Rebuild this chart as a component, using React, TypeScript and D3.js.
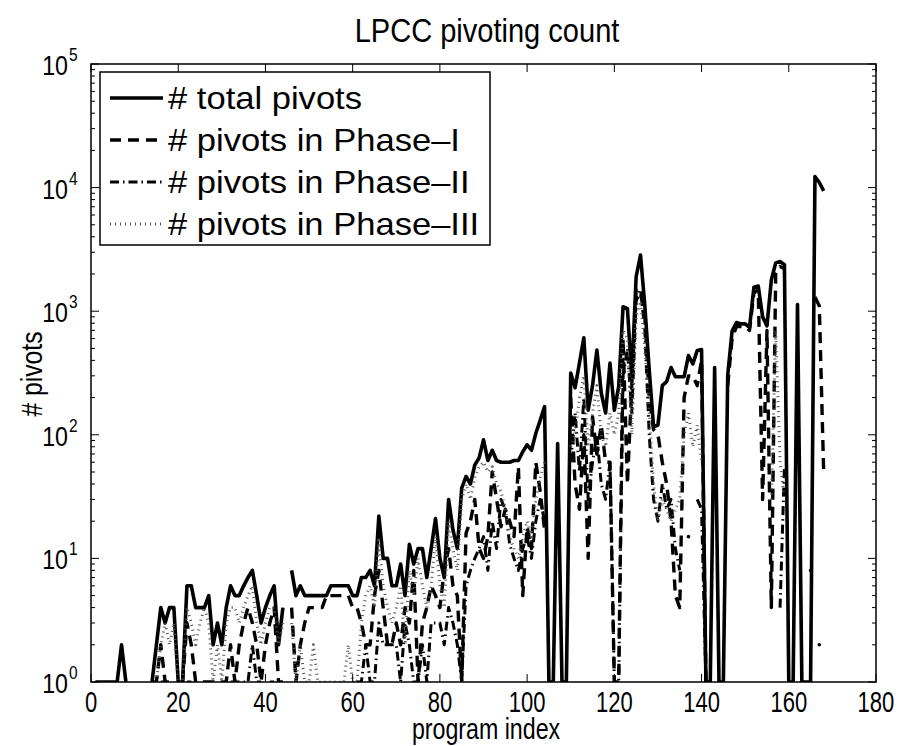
import React from 'react'
import * as d3 from 'd3'

// pivot counts per program (program index 1..168), 0 = nothing drawn
const totalPivots = [
	1, 1, 1, 1, 1, 1, 2, 1, 0, 0,
	0, 0, 0, 1, 2, 4, 3, 4, 4, 1,
	1, 6, 6, 4, 4, 4, 5, 2, 3, 2,
	4, 6, 5, 5, 6, 7, 8, 5, 3, 4,
	5, 6, 2, 4, 0, 8, 5, 6, 5, 5,
	5, 5, 5, 5, 6, 6, 6, 6, 6, 5,
	5, 7, 7, 8, 6, 22, 10, 10, 6, 6,
	9, 5, 13, 9, 12, 12, 7, 12, 21, 10,
	7, 30, 17, 12, 37, 46, 40, 57, 65, 91,
	62, 75, 62, 60, 60, 60, 62, 62, 73, 83,
	75, 103, 131, 169, 1, 1, 85, 1, 1, 316,
	240, 380, 610, 158, 250, 485, 218, 150, 380, 158,
	245, 1087, 1050, 295, 1900, 2850, 1100, 335, 116, 120,
	250, 270, 350, 295, 295, 295, 437, 375, 480, 490,
	1, 1, 350, 1, 1, 305, 690, 810, 790, 790,
	740, 1560, 1600, 900, 760, 1790, 2460, 2520, 2380, 1,
	1, 1130, 1, 1, 1, 12300, 11000, 9400,
]

const phase1Pivots = [
	0, 0, 0, 0, 0, 0, 0, 0, 0, 0,
	0, 0, 0, 1, 1, 2, 1, 1, 0, 0,
	1, 3, 2, 1, 1, 1, 1, 1, 1, 1,
	1, 2, 1, 2, 3, 4, 3, 2, 1, 2,
	3, 4, 1, 1, 0, 4, 1, 2, 3, 4,
	4, 4, 4, 5, 5, 5, 5, 5, 5, 4,
	4, 3, 2, 2, 5, 8, 4, 2, 2, 3,
	2, 4, 3, 8, 1, 3, 4, 6, 5, 4,
	8, 12, 6, 5, 1, 16, 20, 30, 12, 10,
	15, 50, 30, 18, 25, 20, 15, 55, 5, 18,
	12, 60, 35, 17, 0, 0, 0, 0, 0, 200,
	40, 25, 100, 10, 140, 70, 120, 60, 60, 1,
	1, 600, 40, 250, 1500, 1400, 900, 200, 110, 100,
	60, 40, 20, 5, 4, 200, 300, 300, 250, 400,
	1, 0, 0, 0, 0, 250, 600, 750, 750, 750,
	700, 1400, 1500, 30, 700, 4, 2000, 2300, 2200, 0,
	0, 0, 0, 0, 0, 1300, 1100, 50,
]

const phase2Pivots = [
	0, 0, 0, 0, 0, 0, 0, 0, 0, 0,
	0, 0, 0, 0, 0, 1, 1, 0, 0, 0,
	0, 1, 1, 0, 0, 0, 0, 0, 0, 0,
	0, 1, 1, 1, 1, 1, 2, 1, 1, 0,
	1, 1, 0, 0, 0, 0, 0, 0, 0, 0,
	0, 0, 0, 0, 0, 0, 0, 0, 0, 0,
	1, 1, 2, 1, 1, 3, 2, 2, 2, 2,
	1, 3, 2, 1, 1, 2, 1, 3, 3, 3,
	2, 4, 3, 2, 1, 6, 8, 10, 12, 15,
	8, 20, 12, 30, 25, 13, 10, 8, 12, 15,
	10, 20, 30, 20, 0, 0, 0, 0, 0, 60,
	150, 50, 200, 30, 60, 100, 40, 30, 60, 1,
	1, 300, 500, 150, 1200, 1500, 700, 100, 30, 20,
	40, 25, 30, 12, 8, 0, 15, 0, 30, 25,
	1, 0, 0, 0, 0, 0, 0, 0, 0, 0,
	0, 0, 0, 0, 0, 0, 0, 4, 55, 0,
	0, 0, 0, 0, 8, 0, 2, 0,
]

const phase3Pivots = [
	0, 0, 0, 0, 0, 0, 0, 0, 0, 0,
	0, 0, 0, 0, 1, 2, 3, 2, 3, 1,
	1, 4, 3, 2, 3, 4, 3, 1, 2, 1,
	3, 4, 4, 3, 4, 5, 6, 3, 2, 3,
	4, 4, 2, 3, 0, 3, 1, 2, 1, 1,
	2, 1, 1, 1, 1, 1, 1, 1, 2, 1,
	1, 3, 5, 6, 4, 14, 6, 4, 3, 4,
	6, 2, 8, 5, 10, 6, 4, 6, 15, 6,
	4, 20, 12, 8, 30, 40, 30, 45, 55, 60,
	50, 55, 40, 35, 25, 15, 12, 10, 15, 20,
	15, 30, 45, 60, 0, 0, 0, 0, 0, 80,
	100, 200, 300, 80, 150, 250, 100, 80, 150, 100,
	150, 700, 600, 100, 900, 1200, 500, 150, 40, 20,
	30, 25, 20, 25, 30, 100, 150, 80, 120, 60,
	0, 0, 0, 0, 0, 0, 0, 0, 0, 0,
	0, 0, 0, 0, 0, 30, 700, 60, 30, 0,
	0, 0, 0, 0, 0, 0, 0, 0,
]

const xTicks = [0, 20, 40, 60, 80, 100, 120, 140, 160, 180]
const yDecades = [0, 1, 2, 3, 4, 5]
const legendLabels = ['# total pivots', '# pivots in Phase\u2013I', '# pivots in Phase\u2013II', '# pivots in Phase\u2013III']

const FONT = "'Liberation Sans', Arial, Helvetica, sans-serif"

// plot box
const left = 91
const right = 876
const top = 64
const bottom = 682

const series = [
	{ data: totalPivots, width: 3.6, dash: 'none', color: '#000' },
	{ data: phase1Pivots, width: 3.4, dash: '11,7', color: '#000' },
	{ data: phase2Pivots, width: 3, dash: '9,4,1.5,4', color: '#000' },
	{ data: phase3Pivots, width: 3, dash: '1,4', color: '#555' },
]

// text with horizontal stretch (tick fonts in the picture are narrow)
function SText({ x, y, size, sx = 1, anchor = 'middle', rotate = 0, children }: any) {
	return (
		<text
			transform={`translate(${x},${y}) rotate(${rotate}) scale(${sx},1)`}
			fontSize={size}
			fontFamily={FONT}
			textAnchor={anchor}
			fill="#000"
		>
			{children}
		</text>
	)
}

export default function App() {
	const x = d3.scaleLinear().domain([0, 180]).range([left, right])
	const y = d3.scaleLog().domain([1, 1e5]).range([bottom, top])

	const line = d3
		.line<number>()
		.defined(d => d > 0)
		.x((d, i) => x(i + 1))
		.y(d => y(d))

	// single points that have no drawn neighbour show up as dots
	const lonely = (data: number[]) =>
		data
			.map((v, i) => ({ v, i }))
			.filter(({ v, i }) => v > 0 && !(data[i - 1] > 0) && !(data[i + 1] > 0))

	const minorTicks: number[] = []
	for (let k = 0; k < 5; k++) for (let m = 2; m <= 9; m++) minorTicks.push(m * 10 ** k)

	return (
		<svg width={899} height={746} style={{ position: 'absolute', left: 0, top: 0, background: '#fff' }}>
			<rect width={899} height={746} fill="#fff" />
			<defs>
				<clipPath id="plot">
					<rect x={left} y={top} width={right - left} height={bottom - top} />
				</clipPath>
			</defs>

			<g clipPath="url(#plot)">
				{series.map((s, k) => (
					<g key={k}>
						<path
							d={line(s.data) || ''}
							fill="none"
							stroke={s.color}
							strokeWidth={s.width}
							strokeDasharray={s.dash}
							strokeLinejoin="round"
						/>
						{lonely(s.data).map(p => (
							<circle key={p.i} cx={x(p.i + 1)} cy={y(p.v)} r={1.8} fill={s.color} />
						))}
					</g>
				))}
			</g>

			{/* axes box and ticks */}
			<rect x={left} y={top} width={right - left} height={bottom - top} fill="none" stroke="#000" strokeWidth={1.5} />
			{xTicks.map(t => (
				<g key={t}>
					<line x1={x(t)} x2={x(t)} y1={bottom} y2={bottom - 8} stroke="#000" strokeWidth={1} />
					<line x1={x(t)} x2={x(t)} y1={top} y2={top + 8} stroke="#000" strokeWidth={1} />
					<SText x={x(t)} y={712} size={29} sx={0.76}>
						{t}
					</SText>
				</g>
			))}
			{yDecades.map(k => (
				<g key={k}>
					<line x1={left} x2={left + 8} y1={y(10 ** k)} y2={y(10 ** k)} stroke="#000" strokeWidth={1} />
					<line x1={right} x2={right - 8} y1={y(10 ** k)} y2={y(10 ** k)} stroke="#000" strokeWidth={1} />
					<SText x={68} y={y(10 ** k) + 11} size={27} sx={0.86} anchor="end">
						10
					</SText>
					<SText x={69} y={y(10 ** k) - 3} size={18} sx={0.86} anchor="start">
						{k}
					</SText>
				</g>
			))}
			{minorTicks.map(t => (
				<g key={t}>
					<line x1={left} x2={left + 4} y1={y(t)} y2={y(t)} stroke="#000" strokeWidth={1} />
					<line x1={right} x2={right - 4} y1={y(t)} y2={y(t)} stroke="#000" strokeWidth={1} />
				</g>
			))}

			{/* labels */}
			<SText x={487} y={42} size={33} sx={0.88}>
				LPCC pivoting count
			</SText>
			<SText x={486} y={739} size={29} sx={0.8}>
				program index
			</SText>
			<SText x={42} y={374} size={29} sx={0.85} rotate={-90}>
				# pivots
			</SText>

			{/* legend */}
			<rect x={100} y={72} width={390} height={173} fill="#fff" stroke="#000" strokeWidth={1.5} />
			{series.map((s, k) => {
				const cy = 98 + k * 42
				return (
					<g key={k}>
						<line
							x1={110}
							x2={163}
							y1={cy}
							y2={cy}
							stroke={s.color}
							strokeWidth={s.width}
							strokeDasharray={s.dash}
						/>
						<SText x={168} y={cy + 11} size={32} sx={1.08} anchor="start">
							{legendLabels[k]}
						</SText>
					</g>
				)
			})}
		</svg>
	)
}
